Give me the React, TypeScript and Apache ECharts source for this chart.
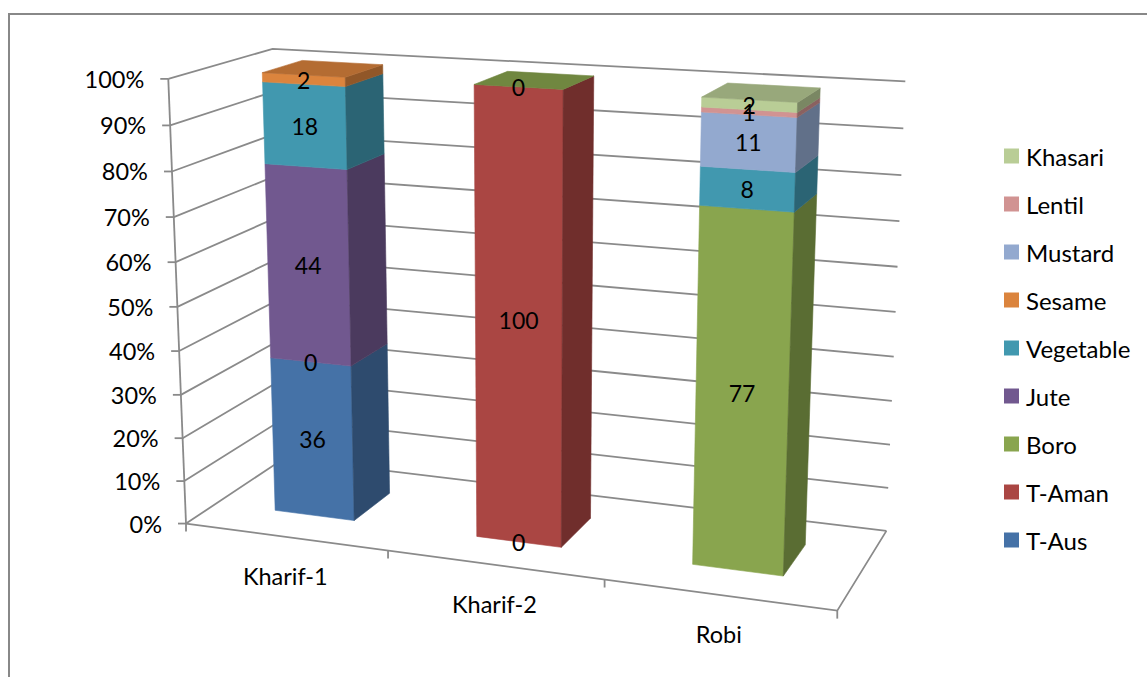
import React, { useEffect, useRef } from 'react';
import * as echarts from 'echarts';

// ---- data -------------------------------------------------------------
const categories = ['Kharif-1', 'Kharif-2', 'Robi'];
const seriesNames = ['T-Aus', 'T-Aman', 'Boro', 'Jute', 'Vegetable', 'Sesame', 'Mustard', 'Lentil', 'Khasari'];

const tAus = [36, 0, null];
const tAman = [0, 100, null];
const boro = [null, 0, 77];
const jute = [44, null, null];
const vegetable = [18, null, 8];
const sesame = [2, null, null];
const mustard = [null, null, 11];
const lentil = [null, null, 1];
const khasari = [null, null, 2];

const seriesValues: (number | null)[][] = [tAus, tAman, boro, jute, vegetable, sesame, mustard, lentil, khasari];

const valueTicks = [0, 10, 20, 30, 40, 50, 60, 70, 80, 90, 100];

// ---- styles -----------------------------------------------------------
const seriesColors = ['#4572A7', '#AA4643', '#89A54E', '#71588F', '#4198AF', '#DB843D', '#93A9CF', '#D19392', '#B9CD96'];
const LINE_COLOR = '#8a8a8a';
const FONT = 'Lato';

// ---- 3D box layout ----------------------------------------------------
// world space: x in category units, y as a fraction of the value range,
// z as a fraction of the floor depth (0 = front, 1 = back wall)
const PROJECTION_ANCHORS: number[][] = [
  [0, 1, 0, 168, 79],
  [0, 0, 0, 187, 524],
  [0, 0.5, 0, 177.5, 306],
  [0, 1, 1, 272, 49],
  [3, 1, 1, 906, 82],
  [3, 0, 1, 886, 531],
  [3, 0, 0, 837, 611],
  [1, 0, 0, 388, 551],
  [2, 0, 0, 604, 579],
  [3, 0.5, 1, 896, 311],
];
const BAR_WIDTH = 0.4;
const BAR_FRONT = 0.3;
const BAR_BACK = 0.7;

function solveLinear(A: number[][], b: number[]) {
  const n = b.length;
  for (let c = 0; c < n; c++) {
    let piv = c;
    for (let r = c + 1; r < n; r++) if (Math.abs(A[r][c]) > Math.abs(A[piv][c])) piv = r;
    [A[c], A[piv]] = [A[piv], A[c]];
    [b[c], b[piv]] = [b[piv], b[c]];
    for (let r = c + 1; r < n; r++) {
      const f = A[r][c] / A[c][c];
      for (let k = c; k < n; k++) A[r][k] -= f * A[c][k];
      b[r] -= f * b[c];
    }
  }
  const x = new Array(n).fill(0);
  for (let r = n - 1; r >= 0; r--) {
    let s = b[r];
    for (let k = r + 1; k < n; k++) s -= A[r][k] * x[k];
    x[r] = s / A[r][r];
  }
  return x;
}

// least-squares perspective camera (3x4 matrix, last entry fixed to 1)
const NU = 500, NV = 300;
function buildProjection(anchors: number[][]) {
  const n = 11;
  const A = Array.from({ length: n }, () => new Array(n).fill(0));
  const b = new Array(n).fill(0);
  const add = (row: number[], rhs: number) => {
    for (let i = 0; i < n; i++) {
      b[i] += row[i] * rhs;
      for (let j = 0; j < n; j++) A[i][j] += row[i] * row[j];
    }
  };
  for (const [X, Y, Z, pu, pv] of anchors) {
    const u = (pu - NU) / NU;
    const v = (pv - NV) / NV;
    add([X, Y, Z, 1, 0, 0, 0, 0, -u * X, -u * Y, -u * Z], u);
    add([0, 0, 0, 0, X, Y, Z, 1, -v * X, -v * Y, -v * Z], v);
  }
  const p = solveLinear(A, b);
  return (X: number, Y: number, Z: number): number[] => {
    const w = p[8] * X + p[9] * Y + p[10] * Z + 1;
    const u = (p[0] * X + p[1] * Y + p[2] * Z + p[3]) / w;
    const v = (p[4] * X + p[5] * Y + p[6] * Z + p[7]) / w;
    return [u * NU + NU, v * NV + NV];
  };
}
const project = buildProjection(PROJECTION_ANCHORS);

function shade(hex: string, f: number) {
  const n = parseInt(hex.slice(1), 16);
  const r = Math.round(((n >> 16) & 255) * f);
  const g = Math.round(((n >> 8) & 255) * f);
  const bl = Math.round((n & 255) * f);
  return `rgb(${r},${g},${bl})`;
}

// stacked percentage segments: [category, start %, end %, raw value, has top face]
function buildSegments() {
  const totals = categories.map((_, c) =>
    seriesValues.reduce((s, arr) => s + (arr[c] == null ? 0 : (arr[c] as number)), 0)
  );
  const lastSeries = categories.map((_, c) => {
    let last = -1;
    seriesValues.forEach((arr, s) => { if (arr[c] != null) last = s; });
    return last;
  });
  const cum = categories.map(() => 0);
  return seriesValues.map((arr, s) => {
    const items: number[][] = [];
    arr.forEach((v, c) => {
      if (v == null) return;
      const start = cum[c];
      const end = start + (v / totals[c]) * 100;
      cum[c] = end;
      items.push([c, start, end, v, lastSeries[c] === s ? 1 : 0]);
    });
    return items;
  });
}

function toWorld(params: any, api: any, cat: number, value: number) {
  const cs = params.coordSys;
  const band = api.size([1, 0])[0];
  const pt = api.coord([cat, value]);
  return { X: (pt[0] - cs.x) / band, Y: (cs.y + cs.height - pt[1]) / cs.height };
}

function poly(pts: number[][], fill: string) {
  return { type: 'polygon', shape: { points: pts }, style: { fill, stroke: fill, lineWidth: 0.6 } };
}

export default function App() {
  const ref = useRef<HTMLDivElement>(null);

  useEffect(() => {
    if (!ref.current) return;
    const chart = echarts.init(ref.current, null, { renderer: 'svg' });
    const nCat = categories.length;
    const segments = buildSegments();

    const frameSeries = {
      type: 'custom',
      name: 'frame',
      coordinateSystem: 'cartesian2d',
      clip: false,
      silent: true,
      z: 1,
      data: valueTicks.map((t) => [0, t]),
      renderItem: (params: any, api: any) => {
        const t = api.value(1);
        const { Y } = toWorld(params, api, 0, t);
        const a = project(0, Y, 0);
        const b = project(0, Y, 1);
        const c = project(nCat, Y, 1);
        const lineStyle = { stroke: LINE_COLOR, lineWidth: 1.8, fill: null };
        const children: any[] = [
          { type: 'polyline', shape: { points: [a, b, c] }, style: lineStyle },
          { type: 'line', shape: { x1: a[0] - 8, y1: a[1], x2: a[0], y2: a[1] }, style: lineStyle },
          {
            type: 'text', x: a[0] - 24, y: a[1],
            style: { text: `${t}%`, fill: '#000', fontSize: 23.5, fontFamily: FONT, align: 'right', verticalAlign: 'middle' },
          },
        ];
        if (params.dataIndex === 0) {
          const top = project(0, 1, 0);
          children.push({ type: 'line', shape: { x1: a[0], y1: a[1], x2: top[0], y2: top[1] }, style: lineStyle });
          children.push({
            type: 'polyline',
            shape: { points: [a, project(nCat, 0, 0), project(nCat, 0, 1)] },
            style: lineStyle,
          });
        }
        return { type: 'group', children };
      },
    };

    const categorySeries = {
      type: 'custom',
      name: 'categories',
      coordinateSystem: 'cartesian2d',
      clip: false,
      silent: true,
      z: 1,
      data: categories.map((_, i) => [i, 0]),
      renderItem: (params: any, api: any) => {
        const i = api.value(0);
        const { X } = toWorld(params, api, i, 0);
        const lineStyle = { stroke: LINE_COLOR, lineWidth: 1.8 };
        const mid = project(X, 0, 0);
        const children: any[] = [
          {
            type: 'text', x: mid[0], y: mid[1] + 39,
            style: { text: categories[i], fill: '#000', fontSize: 23.5, fontFamily: FONT, align: 'center', verticalAlign: 'middle' },
          },
        ];
        const edges = i === 0 ? [X - 0.5, X + 0.5] : [X + 0.5];
        edges.forEach((ex) => {
          const p = project(ex, 0, 0);
          children.push({ type: 'line', shape: { x1: p[0], y1: p[1], x2: p[0], y2: p[1] + 8 }, style: lineStyle });
        });
        return { type: 'group', children };
      },
    };

    const barSeries = seriesNames.map((name, s) => ({
      type: 'custom',
      name,
      coordinateSystem: 'cartesian2d',
      clip: false,
      z: 2,
      itemStyle: { color: seriesColors[s] },
      data: segments[s],
      renderItem: (params: any, api: any) => {
        const cat = api.value(0);
        const lo = toWorld(params, api, cat, api.value(1));
        const hi = toWorld(params, api, cat, api.value(2));
        const raw = api.value(3);
        const hasTop = api.value(4) === 1;
        const x0 = lo.X - BAR_WIDTH / 2;
        const x1 = lo.X + BAR_WIDTH / 2;
        const y0 = lo.Y;
        const y1 = hi.Y;
        const base = seriesColors[s];
        const children: any[] = [];
        if (y1 > y0) {
          children.push(poly([project(x0, y0, BAR_FRONT), project(x1, y0, BAR_FRONT), project(x1, y1, BAR_FRONT), project(x0, y1, BAR_FRONT)], base));
          children.push(poly([project(x1, y0, BAR_FRONT), project(x1, y0, BAR_BACK), project(x1, y1, BAR_BACK), project(x1, y1, BAR_FRONT)], shade(base, 0.66)));
        }
        if (hasTop) {
          children.push(poly([project(x0, y1, BAR_FRONT), project(x1, y1, BAR_FRONT), project(x1, y1, BAR_BACK), project(x0, y1, BAR_BACK)], shade(base, 0.82)));
        }
        const c = project(lo.X, (y0 + y1) / 2, BAR_FRONT);
        children.push({
          type: 'text', x: c[0], y: c[1], z2: 100,
          style: { text: String(raw), fill: '#000', fontSize: 23, fontFamily: FONT, align: 'center', verticalAlign: 'middle' },
        });
        return { type: 'group', children };
      },
    }));

    chart.setOption({
      animation: false,
      grid: { left: 0, top: 0, width: 300, height: 100, show: false },
      xAxis: { type: 'category', data: categories, show: false },
      yAxis: { type: 'value', min: 0, max: 100, show: false },
      legend: {
        orient: 'vertical',
        left: 999,
        top: 139,
        itemWidth: 15,
        itemHeight: 15,
        itemGap: 24,
        icon: 'rect',
        selectedMode: false,
        data: [...seriesNames].reverse(),
        textStyle: { fontFamily: FONT, fontSize: 24, color: '#000', padding: [0, 0, 0, 2] },
      },
      graphic: [
        {
          type: 'rect',
          shape: { x: 9, y: 14, width: 1160, height: 700 },
          style: { fill: 'none', stroke: '#888', lineWidth: 2 },
          silent: true,
        },
      ],
      series: [frameSeries, categorySeries, ...barSeries],
    });

    return () => chart.dispose();
  }, []);

  return <div ref={ref} style={{ position: 'fixed', left: 0, top: 0, width: 1147, height: 677, background: '#fff' }} />;
}
